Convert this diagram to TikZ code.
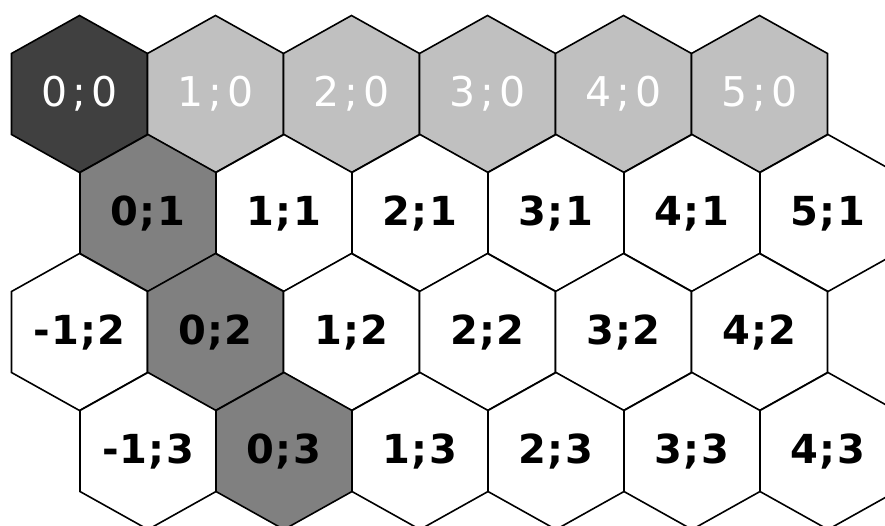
\documentclass[tikz,border=0pt]{standalone}
\usepackage{fontspec}
\setmainfont{DejaVu Sans}
\newfontfamily\labreg[LetterSpace=12]{DejaVu Sans}
\newfontfamily\labbold[LetterSpace=3]{DejaVu Sans Bold}
\definecolor{darkcell}{HTML}{404040}
\definecolor{lightcell}{HTML}{C0C0C0}
\definecolor{midcell}{HTML}{808080}
\tikzset{
  hexedge/.style={draw=black, line width=1.6pt, line join=miter},
  toplab/.style={anchor=base, inner sep=0pt, text=white, font=\labreg\fontsize{41}{48}\selectfont},
  bodylab/.style={anchor=base, inner sep=0pt, text=black, font=\labbold\fontsize{40}{48}\selectfont},
}
\newcommand\hexcell[6]{%
  \draw[hexedge, fill=#4, shift={(#2,#3)}] (0,-78.5) -- (68,-40.5) -- (68,40.5) -- (0,78.5) -- (-68,40.5) -- (-68,-40.5) -- cycle;
  \node[#5] (#1) at (#2,#3+12) {#6};
}
\begin{document}
\begin{tikzpicture}[x=1pt,y=-1pt]
\useasboundingbox (0,0) rectangle (885,525);
% row 0
\hexcell{c00}{79.5}{94}{darkcell}{toplab}{0;0}
\hexcell{c10}{215.5}{94}{lightcell}{toplab}{1;0}
\hexcell{c20}{351.5}{94}{lightcell}{toplab}{2;0}
\hexcell{c30}{487.5}{94}{lightcell}{toplab}{3;0}
\hexcell{c40}{623.5}{94}{lightcell}{toplab}{4;0}
\hexcell{c50}{759.5}{94}{lightcell}{toplab}{5;0}
% row 1
\hexcell{c01}{148}{213}{midcell}{bodylab}{0;1}
\hexcell{c11}{284}{213}{white}{bodylab}{1;1}
\hexcell{c21}{420}{213}{white}{bodylab}{2;1}
\hexcell{c31}{556}{213}{white}{bodylab}{3;1}
\hexcell{c41}{692}{213}{white}{bodylab}{4;1}
\hexcell{c51}{828}{213}{white}{bodylab}{5;1}
% row 2
\hexcell{cm12}{79.5}{332}{white}{bodylab}{-1;2}
\hexcell{c02}{215.5}{332}{midcell}{bodylab}{0;2}
\hexcell{c12}{351.5}{332}{white}{bodylab}{1;2}
\hexcell{c22}{487.5}{332}{white}{bodylab}{2;2}
\hexcell{c32}{623.5}{332}{white}{bodylab}{3;2}
\hexcell{c42}{759.5}{332}{white}{bodylab}{4;2}
% row 3
\hexcell{cm13}{148}{451}{white}{bodylab}{-1;3}
\hexcell{c03}{284}{451}{midcell}{bodylab}{0;3}
\hexcell{c13}{420}{451}{white}{bodylab}{1;3}
\hexcell{c23}{556}{451}{white}{bodylab}{2;3}
\hexcell{c33}{692}{451}{white}{bodylab}{3;3}
\hexcell{c43}{828}{451}{white}{bodylab}{4;3}
\end{tikzpicture}
\end{document}
